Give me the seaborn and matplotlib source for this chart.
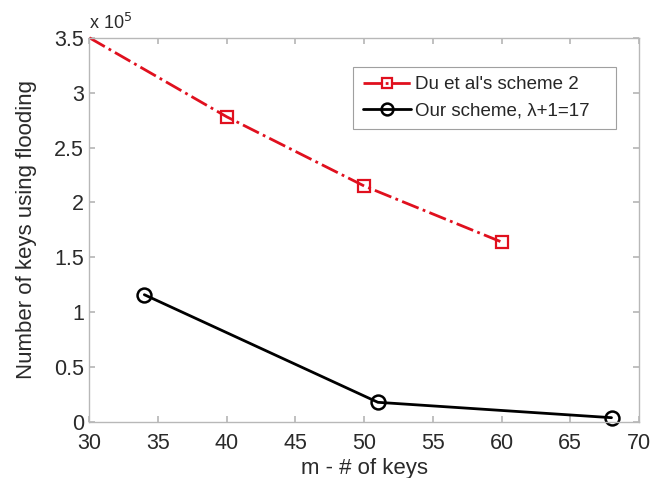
import matplotlib
matplotlib.use("Agg")
import matplotlib.pyplot as plt
from matplotlib.ticker import FuncFormatter, MultipleLocator
import seaborn as sns
import pandas as pd

# Keys used by each scheme when flooding
du_m = [30, 40, 50, 60]
du_keys = [350000, 278000, 215000, 164000]
our_m = [34, 51, 68]
our_keys = [116000, 18000, 4000]
du_label = "Du et al's scheme 2"
our_label = "Our scheme, \u03bb+1=17"

sns.set_theme(style="white")
plt.rcParams["font.family"] = ["Liberation Sans", "DejaVu Sans"]

fig = plt.figure(figsize=(6.67, 4.78), dpi=100)
ax = fig.add_axes([0.134, 0.117, 0.824, 0.804])

du = pd.DataFrame({"m": du_m, "keys": du_keys})
our = pd.DataFrame({"m": our_m, "keys": our_keys})

sns.lineplot(data=du, x="m", y="keys", ax=ax, color="#e0101e", linestyle="-.",
             linewidth=2, marker="s", markersize=8, markerfacecolor="none",
             markeredgecolor="#e0101e", markeredgewidth=1.6,
             markevery=[1, 2, 3], label=du_label, clip_on=False)
sns.lineplot(data=our, x="m", y="keys", ax=ax, color="black", linestyle="-",
             linewidth=2, marker="o", markersize=10, markerfacecolor="none",
             markeredgecolor="black", markeredgewidth=1.8,
             label=our_label, clip_on=False)

ax.set_xlim(30, 70)
ax.set_ylim(0, 350000)
ax.xaxis.set_major_locator(MultipleLocator(5))
ax.yaxis.set_major_locator(MultipleLocator(50000))
ax.yaxis.set_major_formatter(FuncFormatter(lambda v, p: f"{v / 1e5:g}"))

for s in ax.spines.values():
    s.set_color("#b8b8b8")
    s.set_linewidth(1.0)
ax.tick_params(direction="in", length=4, color="#b8b8b8", labelsize=15.5,
               labelcolor="#2a2a2a", top=True, right=True, bottom=True, left=True)
ax.tick_params(axis="x", pad=8)
ax.tick_params(axis="y", pad=4)

ax.set_xlabel("m - # of keys", fontsize=16, color="#2a2a2a", labelpad=3)
ax.set_ylabel("Number of keys using flooding", fontsize=16, color="#2a2a2a", labelpad=12)

ax.text(0.0, 1.012, "x 10$^5$", transform=ax.transAxes, fontsize=13,
        color="#2a2a2a", ha="left", va="bottom")

leg = ax.legend(loc="upper left", bbox_to_anchor=(0.48, 0.924, 0.478, 0), mode="expand",
                borderaxespad=0, fontsize=13.5, frameon=True, fancybox=False,
                edgecolor="#888888", handlelength=2.6, handletextpad=0.2,
                borderpad=0.5, labelspacing=0.5, markerscale=0.85)
leg.get_frame().set_linewidth(0.8)

fig.savefig("out.png", dpi=100, facecolor="white")
